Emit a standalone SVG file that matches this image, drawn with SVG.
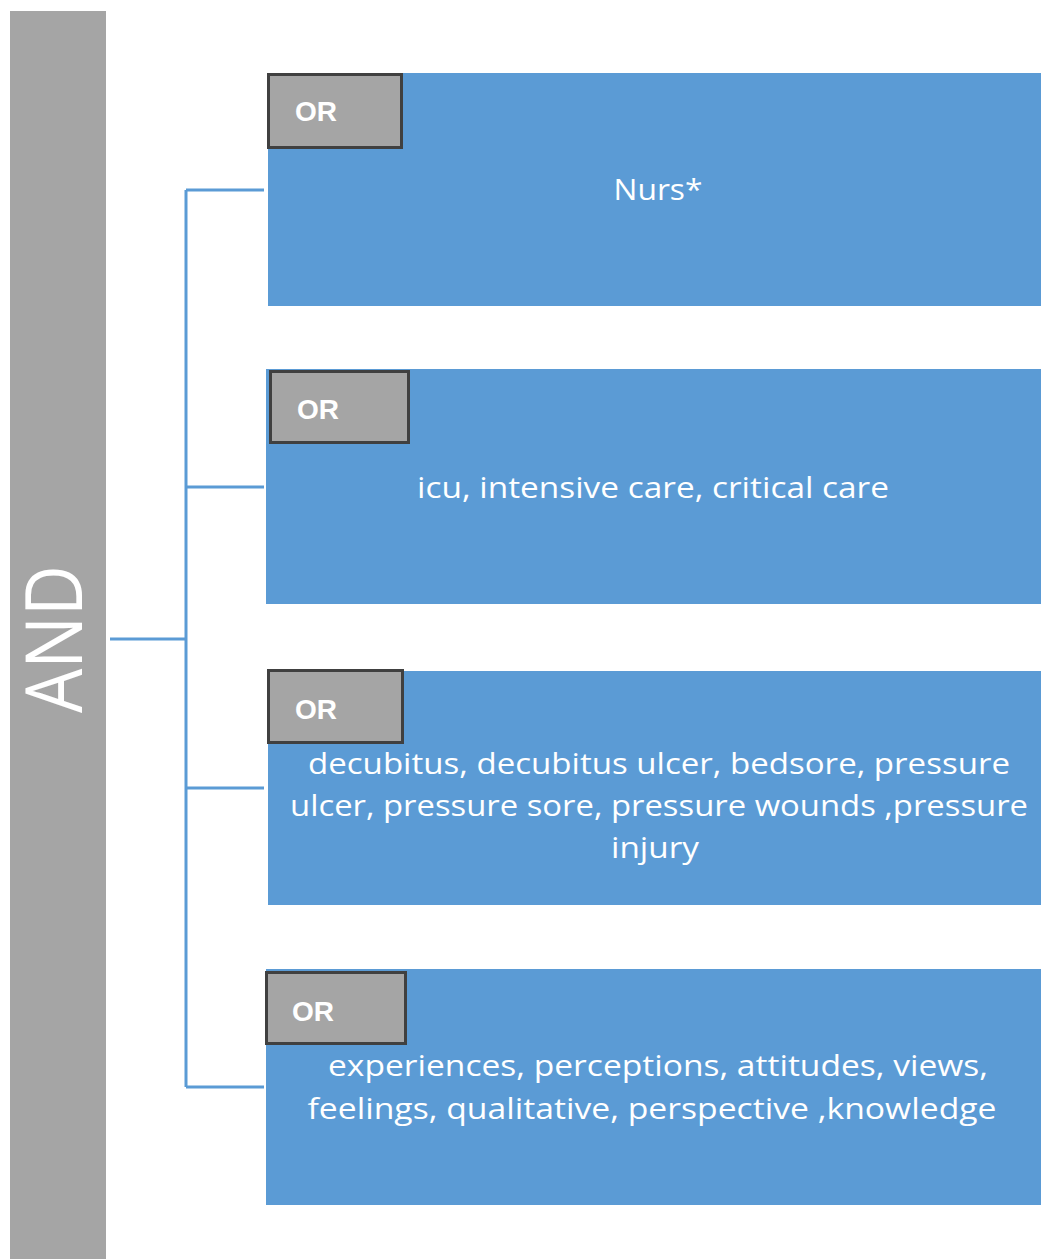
<svg xmlns="http://www.w3.org/2000/svg" width="1041" height="1259" viewBox="0 0 1041 1259">
<style>
.blue{fill:#5b9bd5}
.orbox{fill:#a5a5a5;stroke:#404040;stroke-width:3}
.ortxt{font-family:"Liberation Sans",Arial,sans-serif;font-weight:bold;font-size:28px;fill:#ffffff}
.txt{font-family:"Open Sans","Liberation Sans",sans-serif;font-size:29px;fill:#ffffff;text-anchor:middle}
.conn{stroke:#5b9bd5;stroke-width:3;fill:none}
</style>
<rect width="1041" height="1259" fill="#ffffff"/>
<g id="and">
<rect x="10" y="11" width="96" height="1248" fill="#a5a5a5"/>
<text x="0" y="0" transform="translate(82,639) rotate(-90)" font-family="'Open Sans','Liberation Sans',sans-serif" font-weight="400" font-size="78" fill="#ffffff" text-anchor="middle" textLength="148" lengthAdjust="spacingAndGlyphs">AND</text>
</g>
<g id="connectors">
<path class="conn" d="M110,639 H186 M186,190 V1087 M186,190 H264 M186,487 H264 M186,788 H264 M186,1087 H264"/>
</g>
<g id="node1">
<rect class="blue" x="268" y="73" width="773" height="233"/>
<rect class="orbox" x="268.5" y="74.5" width="133" height="73"/>
<text class="ortxt" x="295" y="121">OR</text>
<text class="txt" x="658" y="200" textLength="89" lengthAdjust="spacingAndGlyphs">Nurs*</text>
</g>
<g id="node2">
<rect class="blue" x="266" y="369" width="775" height="235"/>
<rect class="orbox" x="270.5" y="371.5" width="138" height="71"/>
<text class="ortxt" x="297" y="419">OR</text>
<text class="txt" x="653" y="498" textLength="472" lengthAdjust="spacingAndGlyphs">icu, intensive care, critical care</text>
</g>
<g id="node3">
<rect class="blue" x="268" y="671" width="773" height="234"/>
<rect class="orbox" x="268.5" y="670.5" width="134" height="72"/>
<text class="ortxt" x="295" y="719">OR</text>
<text class="txt" x="659" y="774" textLength="702" lengthAdjust="spacingAndGlyphs">decubitus, decubitus ulcer, bedsore, pressure</text>
<text class="txt" x="659" y="816" textLength="738" lengthAdjust="spacingAndGlyphs">ulcer, pressure sore, pressure wounds ,pressure</text>
<text class="txt" x="655" y="858" textLength="88" lengthAdjust="spacingAndGlyphs">injury</text>
</g>
<g id="node4">
<rect class="blue" x="266" y="969" width="775" height="236"/>
<rect class="orbox" x="266.5" y="972.5" width="139" height="71"/>
<text class="ortxt" x="292" y="1021">OR</text>
<text class="txt" x="658" y="1076" textLength="660" lengthAdjust="spacingAndGlyphs">experiences, perceptions, attitudes, views,</text>
<text class="txt" x="652" y="1119" textLength="689" lengthAdjust="spacingAndGlyphs">feelings, qualitative, perspective ,knowledge</text>
</g>
</svg>
